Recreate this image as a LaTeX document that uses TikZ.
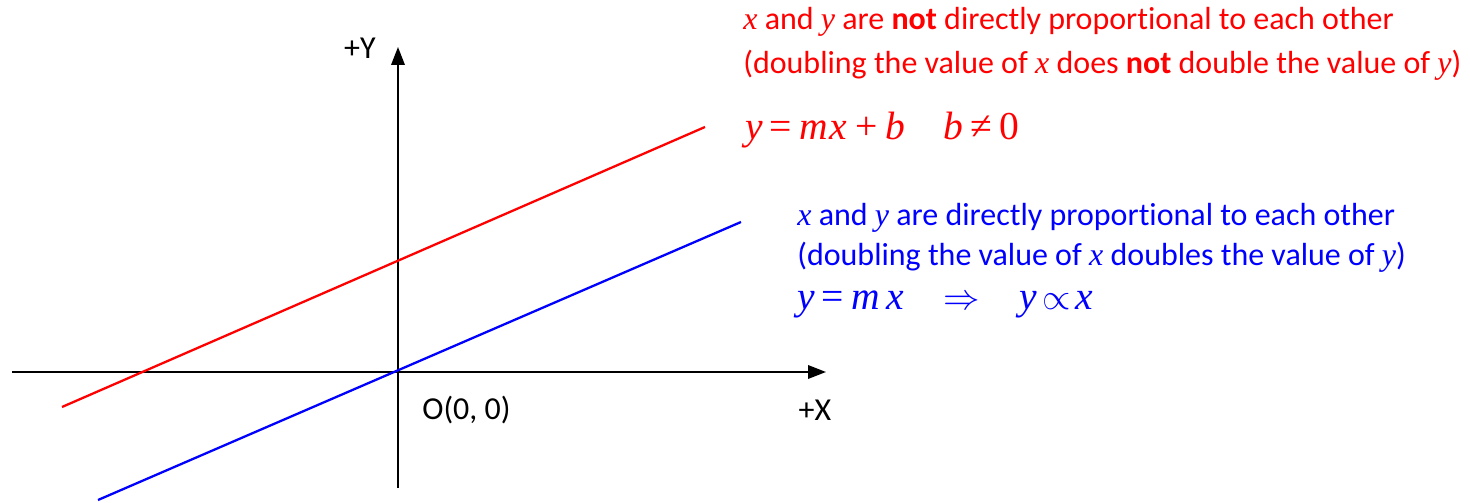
\documentclass[tikz,border=0pt]{standalone}
\usepackage{fontspec}
\setmainfont[Ligatures=NoCommon]{Carlito}
\newfontfamily\tms{Liberation Serif}
\usepackage{tikz}
\usetikzlibrary{arrows.meta}
\usetikzlibrary{positioning}

\newcommand{\mv}[1]{{\tms\itshape #1}}
\newcommand{\bodyfont}{\fontsize{18.2}{22}\selectfont}
\newcommand{\eqfont}{\fontsize{22.5}{27}\selectfont}

\tikzset{
    axis/.style={line width=1.1pt, -{Triangle[length=0.36cm,width=0.27cm]}},
    graphline/.style={line width=1.3pt},
    txt/.style={inner sep=0pt, anchor=west, font=\bodyfont}
}

\begin{document}
\begin{tikzpicture}
        \useasboundingbox (-7.96,-2.6) rectangle (21.44,7.44);
        % axes
        \coordinate (O) at (0,0);
        \coordinate (xl) at (-7.72,0);
        \coordinate (xr) at (8.56,0);
        \coordinate (yb) at (0,-2.32);
        \coordinate (yt) at (0,6.5);
        \draw[axis] (xl) -- (xr);
        \draw[axis] (yb) -- (yt);
        \node[font=\bodyfont] (ylab) at (-0.76,6.48) {+Y};
        \node[font=\bodyfont] (xlab) at (8.34,-0.76) {+X};
        \node[txt] (orig) at (0.48,-0.76) {O(0, 0)};
        % the two lines
        \coordinate (ra) at (-6.72,-0.7);
        \coordinate (rb) at (6.14,4.9);
        \coordinate (ba) at (-6.0,-2.56);
        \coordinate (bb) at (6.86,3.0);
        \draw[graphline, red] (ra) -- (rb);
        \draw[graphline, blue] (ba) -- (bb);
        % red text
        \node[txt, red] (r1) at (6.9,7.0) {\mv{x} and \mv{y} are \textbf{not} directly proportional to each other};
        \node[txt, red] (r2) at (6.9,6.14) {(doubling the value of \mv{x} does \textbf{not} double the value of \mv{y})};
        \node[txt, red, font=\eqfont] (req) at (6.94,4.84) {\mv{y}\kern4pt{\tms=}\kern4pt\mv{m\kern1pt x}\kern4.5pt{\tms+}\kern4.5pt\mv{b}\kern22pt\mv{b}\kern4pt{\tms\char"2260}\kern4pt{\tms 0}};
        % blue text
        \node[txt, blue] (b1) at (7.98,3.08) {\mv{x} and \mv{y} are directly proportional to each other};
        \node[txt, blue] (b2) at (7.98,2.3) {(doubling the value of \mv{x} doubles the value of \mv{y})};
        \node[txt, blue, font=\eqfont] (beq) at (7.98,1.36) {\mv{y}\kern4pt{\tms=}\kern4pt\mv{m\,x}\quad $\Rightarrow$\quad \mv{y}\kern3pt$\propto$\kern3pt\mv{x}};
    \end{tikzpicture}
\end{document}
